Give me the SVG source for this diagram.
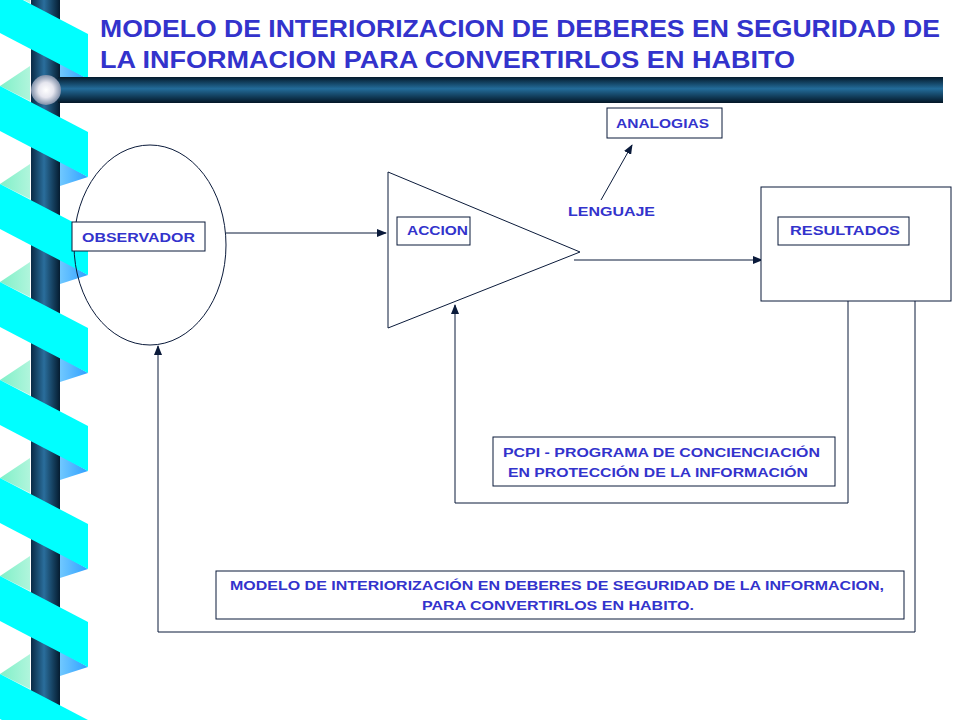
<svg xmlns="http://www.w3.org/2000/svg" width="960" height="720" viewBox="0 0 960 720">
<defs>
<linearGradient id="pole" x1="0" x2="1" y1="0" y2="0"><stop offset="0" stop-color="#0a2a45"/><stop offset="0.45" stop-color="#2a6e9c"/><stop offset="1" stop-color="#051c30"/></linearGradient>
<linearGradient id="bar" x1="0" x2="0" y1="0" y2="1"><stop offset="0" stop-color="#041a2c"/><stop offset="0.45" stop-color="#236c9a"/><stop offset="1" stop-color="#031626"/></linearGradient>
<radialGradient id="ball"><stop offset="0" stop-color="#ffffff"/><stop offset="0.5" stop-color="#e6e6ef"/><stop offset="1" stop-color="#7f8fa8"/></radialGradient>
<linearGradient id="gr" x1="0" x2="1"><stop offset="0" stop-color="#80f0c8"/><stop offset="1" stop-color="#b0f5dc"/></linearGradient>
<linearGradient id="bl" x1="0" x2="1"><stop offset="0" stop-color="#70c8ff"/><stop offset="1" stop-color="#30a0ff"/></linearGradient>
<marker id="ah" markerWidth="10" markerHeight="8" refX="9" refY="4" orient="auto" markerUnits="userSpaceOnUse"><path d="M0,0 L10,4 L0,8 Z" fill="#0a1a3a"/></marker>
<g id="seg">
<polygon points="30,-20 0,0 30,15" fill="url(#gr)"/>
<polygon points="60,75 88,91 60,100" fill="url(#bl)"/>
</g>
<polygon id="strip" points="0,0 88,46 88,91 0,45" fill="#00ffff"/>
</defs>
<style>
.t{font-family:"Liberation Sans",Arial,sans-serif;font-weight:bold;fill:#3333cc}
.s{font-size:13px}
.b{fill:#fff;stroke:#0a1a3a;stroke-width:1}
.c{fill:none;stroke:#0a1a3a;stroke-width:1}
</style>
<rect width="960" height="720" fill="#fff"/>
<g id="decor">
<use href="#seg" y="-12"/><use href="#seg" y="86"/><use href="#seg" y="184"/><use href="#seg" y="282"/><use href="#seg" y="380"/><use href="#seg" y="478"/><use href="#seg" y="576"/><use href="#seg" y="674"/>
<rect x="31" y="0" width="29" height="720" fill="url(#pole)"/>
<use href="#strip" y="-12"/><use href="#strip" y="86"/><use href="#strip" y="184"/><use href="#strip" y="282"/><use href="#strip" y="380"/><use href="#strip" y="478"/><use href="#strip" y="576"/><use href="#strip" y="674"/>
<rect x="58" y="77" width="885" height="26" fill="url(#bar)"/>
<circle cx="46" cy="90" r="15" fill="url(#ball)"/>
</g>
<g id="title" class="t" font-size="24">
<text x="100" y="37" textLength="840" lengthAdjust="spacingAndGlyphs">MODELO DE INTERIORIZACION DE DEBERES EN SEGURIDAD DE</text>
<text x="100" y="68" textLength="695" lengthAdjust="spacingAndGlyphs">LA INFORMACION PARA  CONVERTIRLOS EN HABITO</text>
</g>
<g id="connectors" class="c">
<line x1="226" y1="233" x2="386" y2="233" marker-end="url(#ah)"/>
<line x1="601" y1="200" x2="632" y2="145" marker-end="url(#ah)"/>
<line x1="574" y1="260" x2="762" y2="260" marker-end="url(#ah)"/>
<polyline points="848,301 848,503 455,503 455,305" marker-end="url(#ah)"/>
<polyline points="915,301 915,632 158,632 158,346" marker-end="url(#ah)"/>
</g>
<g id="observador"><ellipse cx="150" cy="245" rx="76" ry="100" class="c"/><rect x="72" y="222" width="133" height="29" class="b"/><text x="82" y="242" class="t s" textLength="113" lengthAdjust="spacingAndGlyphs">OBSERVADOR</text></g>
<g id="accion"><polygon points="388,172 580,252 388,328" class="c"/><rect x="397" y="217" width="73" height="28" class="b"/><text x="407" y="235" class="t s" textLength="61" lengthAdjust="spacingAndGlyphs">ACCION</text></g>
<g id="lenguaje"><text x="568" y="216" class="t s" textLength="87" lengthAdjust="spacingAndGlyphs">LENGUAJE</text></g>
<g id="analogias"><rect x="607" y="108" width="115" height="30" class="b"/><text x="616" y="128" class="t s" textLength="93" lengthAdjust="spacingAndGlyphs">ANALOGIAS</text></g>
<g id="resultados"><rect x="761" y="187" width="190" height="114" class="b"/><rect x="778" y="217" width="131" height="28" class="b"/><text x="790" y="235" class="t s" textLength="110" lengthAdjust="spacingAndGlyphs">RESULTADOS</text></g>
<g id="pcpi"><rect x="493" y="437" width="342" height="49" class="b"/><text x="503" y="457" class="t s" textLength="317" lengthAdjust="spacingAndGlyphs">PCPI - PROGRAMA DE CONCIENCIACIÓN</text><text x="508" y="477" class="t s" textLength="300" lengthAdjust="spacingAndGlyphs">EN PROTECCIÓN DE LA INFORMACIÓN</text></g>
<g id="modelo"><rect x="216" y="571" width="688" height="48" class="b"/><text x="230" y="590" class="t s" textLength="654" lengthAdjust="spacingAndGlyphs">MODELO DE INTERIORIZACIÓN EN DEBERES DE SEGURIDAD DE LA INFORMACION,</text><text x="422" y="610" class="t s" textLength="272" lengthAdjust="spacingAndGlyphs">PARA CONVERTIRLOS EN HABITO.</text></g>
</svg>
